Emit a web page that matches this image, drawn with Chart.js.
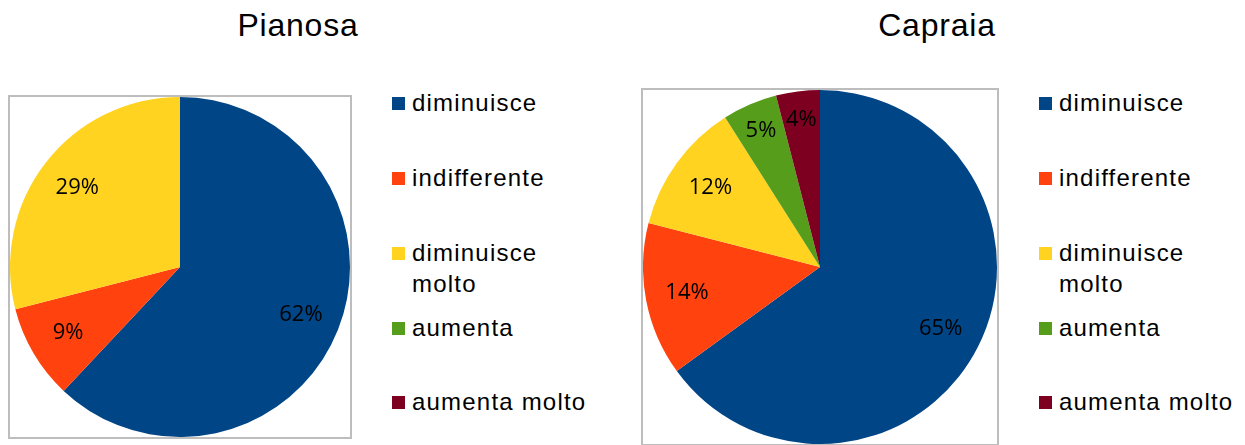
<!DOCTYPE html>
<html>
<head>
<meta charset="utf-8">
<script src="https://cdn.jsdelivr.net/npm/chart.js@4"></script>
<style>
    body { margin: 0; background: #fff; width: 1245px; height: 445px; position: relative; overflow: hidden; }
    .title { position: absolute; top: 9px; font: 32px "Liberation Sans", Arial, sans-serif; letter-spacing: 0.8px; line-height: 32px; color: #000; text-align: center; width: 300px; }
    .pie-box { position: absolute; border: 2px solid #bdbdbd; }
    .legend { position: absolute; top: 0; font: 24px "Liberation Sans", Arial, sans-serif; letter-spacing: 1.2px; color: #000; }
    .legend-item { position: absolute; left: 0; line-height: 31px; padding-left: 20px; width: 200px; white-space: normal; }
    .legend-item span.swatch { position: absolute; left: 0; top: 10px; width: 13px; height: 13px; }
</style>
</head>
<body>
<div class="title" style="left:148px">Pianosa</div>
<div class="title" style="left:787px">Capraia</div>

<div class="pie-box" style="left:8px; top:95px; width:340px; height:340px">
    <canvas id="pianosaChart" width="340" height="340"></canvas>
</div>
<div class="legend" id="pianosaLegend" style="left:392px"></div>

<div class="pie-box" style="left:641px; top:88px; width:354px; height:354px">
    <canvas id="capraiaChart" width="354" height="354"></canvas>
</div>
<div class="legend" id="capraiaLegend" style="left:1039px"></div>

<script>
const categorie = ['diminuisce', 'indifferente', 'diminuisce molto', 'aumenta', 'aumenta molto'];
const pianosa = [62, 9, 29, 0, 0];
const capraia = [65, 14, 12, 5, 4];
const colori = ['#004586', '#ff420e', '#ffd320', '#579d1c', '#7e0021'];

// top of each legend row (px), the wrapped label takes two lines
const legendRows = [87, 162, 237, 312, 386];

const percentLabels = {
    id: 'percentLabels',
    afterDatasetsDraw(chart) {
        const ctx = chart.ctx;
        const data = chart.data.datasets[0].data;
        const total = data.reduce((a, b) => a + b, 0);
        ctx.save();
        ctx.font = '22px "Open Sans", "Noto Sans", sans-serif';
        ctx.fillStyle = '#000';
        ctx.textAlign = 'center';
        ctx.textBaseline = 'middle';
        chart.getDatasetMeta(0).data.forEach((arc, i) => {
            if (!data[i]) return;
            const p = arc.getProps(['x', 'y', 'startAngle', 'endAngle', 'outerRadius'], true);
            const mid = (p.startAngle + p.endAngle) / 2;
            const share = data[i] / total;
            const k = share < 0.08 ? 0.84 : 0.765;
            const x = p.x + Math.cos(mid) * p.outerRadius * k;
            const y = p.y + Math.sin(mid) * p.outerRadius * k;
            ctx.fillText(Math.round(share * 100) + '%', x, y);
        });
        ctx.restore();
    }
};

function makePie(id, values) {
    return new Chart(document.getElementById(id), {
        type: 'pie',
        data: {
            labels: categorie,
            datasets: [{
                data: values,
                backgroundColor: colori,
                borderWidth: 0,
                hoverOffset: 0
            }]
        },
        options: {
            responsive: false,
            animation: false,
            layout: { padding: 0 },
            plugins: {
                legend: { display: false },
                tooltip: { enabled: false }
            }
        },
        plugins: [percentLabels]
    });
}

function buildLegend(id) {
    const box = document.getElementById(id);
    categorie.forEach((label, i) => {
        const item = document.createElement('div');
        item.className = 'legend-item';
        item.style.top = legendRows[i] + 'px';
        item.innerHTML = '<span class="swatch" style="background:' + colori[i] + '"></span>' +
            label.replace('diminuisce molto', 'diminuisce<br>molto');
        box.appendChild(item);
    });
}

let pianosaChart, capraiaChart;

function initCharts() {
    pianosaChart = makePie('pianosaChart', pianosa);
    capraiaChart = makePie('capraiaChart', capraia);
    buildLegend('pianosaLegend');
    buildLegend('capraiaLegend');
}

document.addEventListener('DOMContentLoaded', initCharts);
</script>
</body>
</html>
